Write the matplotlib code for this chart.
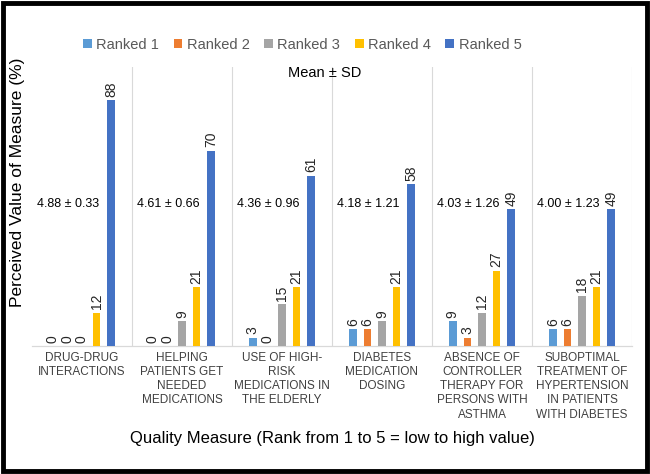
import matplotlib.pyplot as plt
import numpy as np
from matplotlib.patches import Rectangle

plt.rcParams["font.family"] = ["Liberation Sans", "DejaVu Sans"]

categories = [
    "DRUG-DRUG\nINTERACTIONS",
    "HELPING\nPATIENTS GET\nNEEDED\nMEDICATIONS",
    "USE OF HIGH-\nRISK\nMEDICATIONS IN\nTHE ELDERLY",
    "DIABETES\nMEDICATION\nDOSING",
    "ABSENCE OF\nCONTROLLER\nTHERAPY FOR\nPERSONS WITH\nASTHMA",
    "SUBOPTIMAL\nTREATMENT OF\nHYPERTENSION\nIN PATIENTS\nWITH DIABETES",
]
series_names = ["Ranked 1", "Ranked 2", "Ranked 3", "Ranked 4", "Ranked 5"]
ranked_1 = [0, 0, 3, 6, 9, 6]
ranked_2 = [0, 0, 0, 6, 3, 6]
ranked_3 = [0, 9, 15, 9, 12, 18]
ranked_4 = [12, 21, 21, 21, 27, 21]
ranked_5 = [88, 70, 61, 58, 49, 49]
mean_sd = ["4.88 ± 0.33", "4.61 ± 0.66", "4.36 ± 0.96",
           "4.18 ± 1.21", "4.03 ± 1.26", "4.00 ± 1.23"]

colors = ["#5B9BD5", "#ED7D31", "#A5A5A5", "#FFC000", "#4472C4"]
series = [ranked_1, ranked_2, ranked_3, ranked_4, ranked_5]

fig = plt.figure(figsize=(6.5, 4.74), dpi=100)
ax = fig.add_axes([32 / 650, 1 - 346 / 474, 600 / 650, (346 - 67) / 474])

x = np.arange(len(categories))
slot = 0.146
width = 0.075
for i, (name, vals, col) in enumerate(zip(series_names, series, colors)):
    pos = x + (i - 2) * slot
    bars = ax.bar(pos, vals, width=width, color=col, label=name, zorder=3)
    for b, v in zip(bars, vals):
        ax.text(b.get_x() + b.get_width() / 2, v + 1.2, str(v), rotation=90,
                ha="center", va="bottom", fontsize=10, color="#262626")

for xi, txt in zip(x, mean_sd):
    ax.text(xi - 0.14, 51, txt, ha="center", va="center", fontsize=9,
            color="#000000")
ax.text(2.43, 98, "Mean ± SD", ha="center", va="center", fontsize=10.5,
        color="#000000")

# category separators
for b in np.arange(0.5, len(categories), 1.0):
    ax.axvline(b, color="#D9D9D9", linewidth=0.8, zorder=1)

ax.set_xlim(-0.5, len(categories) - 0.5)
ax.set_ylim(0, 100)
ax.set_yticks([])
ax.set_xticks(x)
ax.set_xticklabels(categories, fontsize=8.5, color="#404040", linespacing=1.25)
ax.tick_params(axis="x", length=0, pad=4)
for s in ["top", "right", "left"]:
    ax.spines[s].set_visible(False)
ax.spines["bottom"].set_color("#D9D9D9")
ax.spines["bottom"].set_linewidth(0.9)

ax.set_ylabel("Perceived Value of Measure (%)", fontsize=12.5, color="#000000")
ax.yaxis.set_label_coords(-0.012, 0.585)
fig.text(0.511, 1 - 438 / 474, "Quality Measure (Rank from 1 to 5 = low to high value)",
         ha="center", va="center", fontsize=12, color="#000000")

leg = fig.legend(loc="center", bbox_to_anchor=(0.465, 1 - 45 / 474), ncol=5,
                 frameon=False, fontsize=10.5, handlelength=0.6, handleheight=0.6,
                 handletextpad=0.3, columnspacing=1.0)
for t in leg.get_texts():
    t.set_color("#595959")

fig.patches.append(Rectangle((0.004, 0.006), 0.991, 0.987, transform=fig.transFigure,
                             fill=False, edgecolor="black", linewidth=3.5))

fig.savefig("out.png", dpi=100)
